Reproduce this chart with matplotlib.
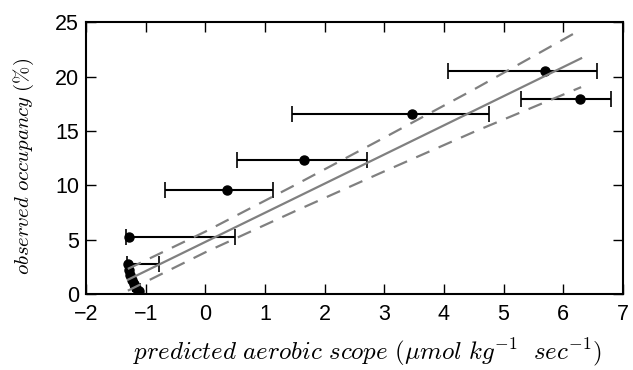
import numpy as np
import matplotlib.pyplot as plt

plt.rcParams['mathtext.fontset'] = 'cm'
plt.rcParams['font.family'] = ['Liberation Sans', 'DejaVu Sans']

# observed points (predicted scope, occupancy) with asymmetric x error limits
scope = [6.28, 5.69, 3.46, 1.65, 0.37, -1.28, -1.30, -1.28, -1.26, -1.23, -1.20, -1.16, -1.12]
occ = [17.9, 20.5, 16.6, 12.32, 9.62, 5.21, 2.75, 2.2, 1.75, 1.3, 0.9, 0.55, 0.25]
scope_lo = [5.30, 4.07, 1.45, 0.525, -0.68, -1.33, -1.31, -1.30, -1.28, -1.25, -1.22, -1.18, -1.14]
scope_hi = [6.80, 6.57, 4.75, 2.71, 1.14, 0.49, -0.78, -1.26, -1.24, -1.21, -1.18, -1.14, -1.10]

# regression line and confidence band
fit_x = [-1.3, 6.3]
fit_y = [1.32, 21.68]
band_x = [-1.3, 0.0, 1.5, 3.0, 4.5, 6.3]
band_hi = [2.32, 5.75, 10.02, 14.39, 18.81, 24.33]
band_lo = [0.32, 3.85, 7.62, 11.29, 14.91, 19.03]

fig = plt.figure(figsize=(6.33, 3.70), dpi=100)
ax = fig.add_axes([0.136, 0.205, 0.848, 0.735])

xerr = [np.array(scope) - np.array(scope_lo), np.array(scope_hi) - np.array(scope)]
ax.errorbar(scope, occ, xerr=xerr, fmt='o', color='black', ms=6.5,
            elinewidth=1.5, capsize=5.5, capthick=1.2, zorder=2)

ax.plot(fit_x, fit_y, color='gray', lw=1.6, zorder=3)
ax.plot(band_x, band_hi, color='gray', lw=1.6, ls=(0, (6.5, 4.5)), zorder=3)
ax.plot(band_x, band_lo, color='gray', lw=1.6, ls=(0, (6.5, 4.5)), zorder=3)

ax.set_xlim(-2, 7)
ax.set_ylim(0, 25)
ax.set_xticks(range(-2, 8))
ax.set_yticks(range(0, 26, 5))
ax.tick_params(direction='in', top=True, right=True, length=7, width=1, labelsize=15.5)
ax.tick_params(axis='x', pad=7)
ax.tick_params(axis='y', pad=5)
for s in ax.spines.values():
    s.set_linewidth(1.5)

ax.set_xlabel(r'$predicted\ aerobic\ scope\ (\mu mol\ kg^{-1}\ \ sec^{-1})$', fontsize=18)
ax.set_ylabel(r'$observed\ occupancy\ (\%)$', fontsize=15)
ax.xaxis.set_label_coords(0.525, -0.155)
ax.yaxis.set_label_coords(-0.093, 0.47)

plt.savefig('out.png', dpi=100)
